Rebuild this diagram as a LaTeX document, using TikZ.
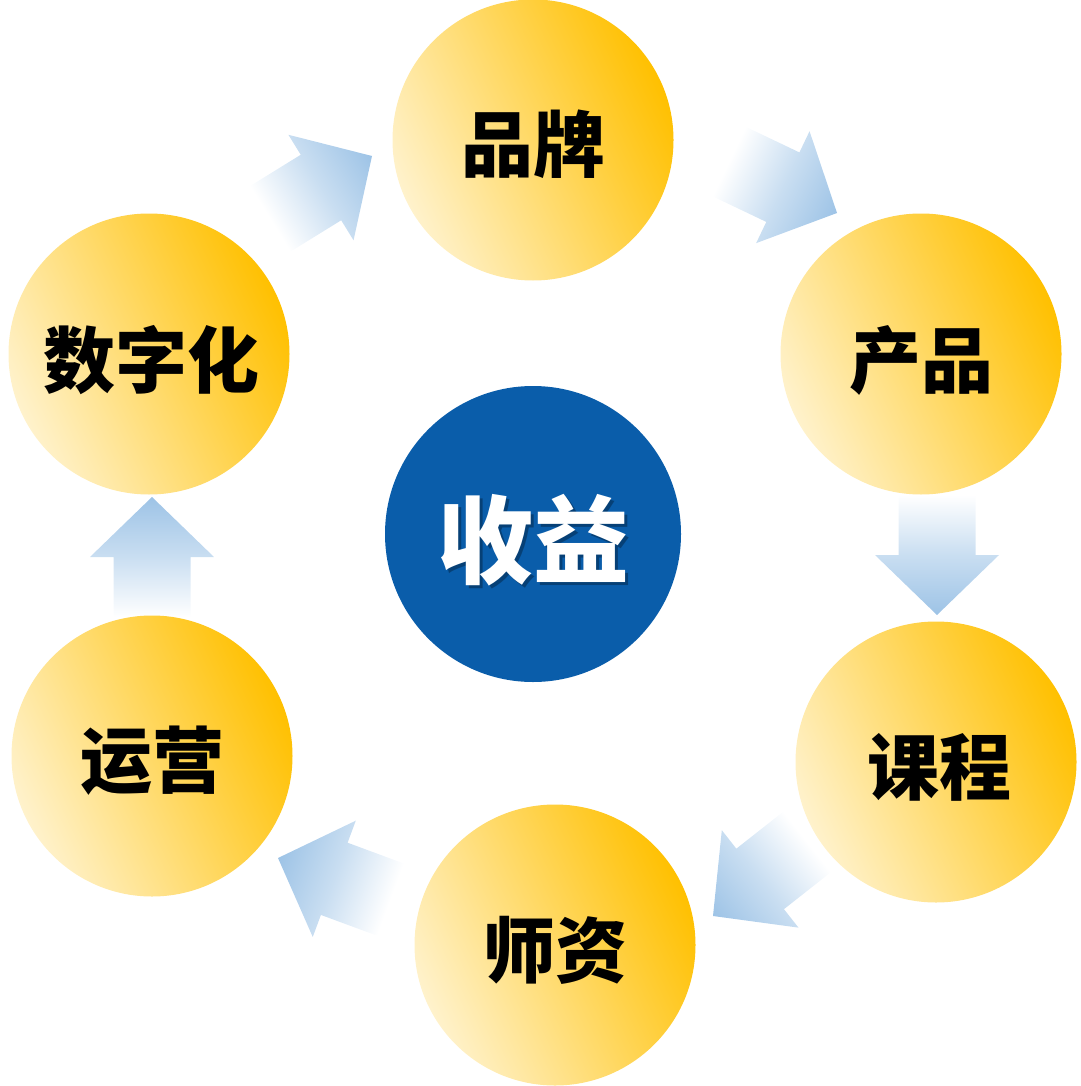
\documentclass[tikz,border=0pt]{standalone}
\usepackage{fontspec}
\newfontfamily\cjk{Noto Sans CJK SC}
\definecolor{lightcream}{RGB}{255,242,204}
\definecolor{goldorange}{RGB}{255,192,0}
\definecolor{centreblue}{RGB}{10,93,170}
\definecolor{arrowblue}{RGB}{157,195,230}
\newcommand\flowarrow[4]{%
  \coordinate (#1) at (#2,#3);
  \begin{scope}[transform canvas={shift={(#2pt,-#3pt)},rotate=#4}]
    \path[arrowshade] (0,0) -- (-60,62) -- (-60,38.5) -- (-120,38.5) -- (-120,-38.5) -- (-60,-38.5) -- (-60,-62) -- cycle;
  \end{scope}}
\begin{document}
\begin{tikzpicture}[x=1pt,y=-1pt,
  ball/.style={circle, minimum size=281pt, inner sep=0pt, shading=axis,
    bottom color=lightcream, top color=goldorange, shading angle=-65},
  balltext/.style={font=\cjk\bfseries\fontsize{72}{80}\selectfont, text=black, inner sep=0pt},
  hub/.style={circle, minimum size=296pt, inner sep=0pt, fill=centreblue},
  hubtext/.style={font=\cjk\bfseries\fontsize{96}{100}\selectfont, inner sep=0pt},
  arrowshade/.style={left color=white, right color=arrowblue, middle color=arrowblue!55}]
\useasboundingbox (0,0) rectangle (1080,1086);
% arrows
\flowarrow{a1}{372}{156}{31.7}
\flowarrow{a2}{837}{213}{-25.5}
\flowarrow{a3}{937}{615}{-90}
\flowarrow{a4}{713}{916}{-141.8}
\flowarrow{a5}{278}{858}{159.7}
\flowarrow{a6}{152}{497}{90}
% circles
\node[ball] (brand)   at (533,140) {};
\node[ball] (product) at (921,354) {};
\node[ball] (course)  at (936,762) {};
\node[ball] (teacher) at (555,945) {};
\node[ball] (operate) at (152,756) {};
\node[ball] (digital) at (149,354) {};
\node[balltext] (brandtext)   at ([yshift=-4pt]brand.center)   {品牌};
\node[balltext] (producttext) at ([yshift=-6pt]product.center) {产品};
\node[balltext] (coursetext)  at ([xshift=3pt,yshift=-5pt]course.center)  {课程};
\node[balltext] (teachertext) at ([yshift=-5pt]teacher.center) {师资};
\node[balltext] (operatetext) at ([yshift=-5pt]operate.center) {运营};
\node[balltext] (digitaltext) at ([xshift=2pt,yshift=-6pt]digital.center) {数字化};
% centre
\node[hub] (gain) at (533,534) {};
\node[hubtext, text=black, opacity=0.3] (gainshadow) at ([xshift=3pt,yshift=-9pt]gain.center) {收益};
\node[hubtext, text=white] (gaintext) at ([yshift=-6pt]gain.center) {收益};
\end{tikzpicture}
\end{document}
